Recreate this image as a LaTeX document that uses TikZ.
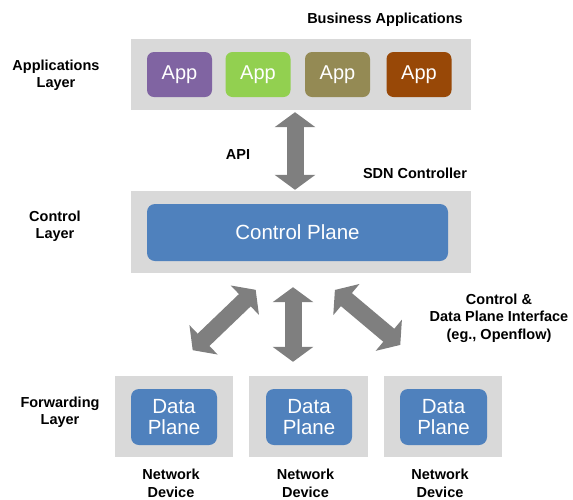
\documentclass[tikz,border=0pt]{standalone}
\usepackage{fontspec}
\setmainfont{Liberation Sans}
\usetikzlibrary{arrows.meta, positioning, calc}
\definecolor{panelgray}{HTML}{D9D9D9}
\definecolor{arrowgray}{HTML}{7F7F7F}
\definecolor{planeblue}{HTML}{4F81BD}
\definecolor{apppurple}{HTML}{8064A2}
\definecolor{appgreen}{HTML}{92D050}
\definecolor{appolive}{HTML}{948A54}
\definecolor{appbrown}{HTML}{984807}

\begin{document}
\begin{tikzpicture}[x=1pt, y=-1pt,
    panel/.style={fill=panelgray, inner sep=0pt},
    appbox/.style={fill=#1, rounded corners=7pt, inner sep=0pt,
                   minimum width=65pt, minimum height=45pt,
                   text=white, font=\fontsize{20}{20}\selectfont},
    planebox/.style={fill=planeblue, rounded corners=8pt, inner sep=0pt,
                     text=white, align=center,
                     font=\fontsize{20.5}{21}\selectfont},
    lbl/.style={align=center, inner sep=0pt,
                font=\bfseries\fontsize{14.5}{17.5}\selectfont},
    bigarrow/.style={arrowgray, line width=17pt,
                     {Triangle[length=15pt,width=40pt]}-{Triangle[length=15pt,width=40pt]}}
  ]
  \useasboundingbox (0,0) rectangle (573,499);

  % Applications layer
  \node[panel, minimum width=340pt, minimum height=71pt] (apps) at (301,74.5) {};
  \node[appbox=apppurple] (app1) at (179.5,74.5) {App};
  \node[appbox=appgreen]  (app2) at (258,74.5) {App};
  \node[appbox=appolive]  (app3) at (337.5,74.5) {App};
  \node[appbox=appbrown]  (app4) at (419,74.5) {App};
  \node[lbl] (busapps) at (385,20) {Business Applications};
  \node[lbl] (applayer) at (56,75) {Applications\\Layer};

  % Control layer
  \node[panel, minimum width=340pt, minimum height=82pt] (ctrl) at (301,232) {};
  \node[planebox, minimum width=301pt, minimum height=57pt] (cplane) at (297.5,232.5) {Control Plane};
  \node[lbl] (ctrllayer) at (55,226) {Control\\Layer};
  \node[lbl] (api) at (238,155) {API};
  \node[lbl] (sdn) at (415,173) {SDN Controller};

  % Forwarding layer
  \node[panel, minimum width=118pt, minimum height=81pt] (dev1) at (174,416.5) {};
  \node[panel, minimum width=119pt, minimum height=81pt] (dev2) at (308.5,416.5) {};
  \node[panel, minimum width=118pt, minimum height=81pt] (dev3) at (443,416.5) {};
  \node[planebox, minimum width=86pt, minimum height=56pt] (dp1) at (174,417) {Data\\Plane};
  \node[planebox, minimum width=86pt, minimum height=56pt] (dp2) at (309,417) {Data\\Plane};
  \node[planebox, minimum width=87pt, minimum height=56pt] (dp3) at (443.5,417) {Data\\Plane};
  \node[lbl] (fwdlayer) at (60,412) {Forwarding\\Layer};
  \node[lbl, below=12pt of dev1, xshift=-3pt] (nd1) {Network\\Device};
  \node[lbl, below=12pt of dev2, xshift=-3pt] (nd2) {Network\\Device};
  \node[lbl, below=12pt of dev3, xshift=-3pt] (nd3) {Network\\Device};
  \node[lbl] (iface) at (499,318) {Control \&\\Data Plane Interface\\(eg., Openflow)};

  % Arrows
  \draw[bigarrow, shorten <=2pt, shorten >=1pt]
    ([xshift=-6pt]apps.south) -- ([xshift=-6pt]ctrl.north);
  \draw[bigarrow, shorten <=37pt, shorten >=24pt]
    ([xshift=-8pt]dev1.north) -- ([xshift=-28pt]ctrl.south);
  \draw[bigarrow, shorten <=14pt, shorten >=14pt]
    ([xshift=-8pt]ctrl.south) -- ([xshift=-8pt]ctrl.south |- dev2.north);
  \draw[bigarrow, shorten <=26pt, shorten >=48pt]
    ([xshift=14pt]ctrl.south) -- ([xshift=-6pt]dev3.north);
\end{tikzpicture}
\end{document}
